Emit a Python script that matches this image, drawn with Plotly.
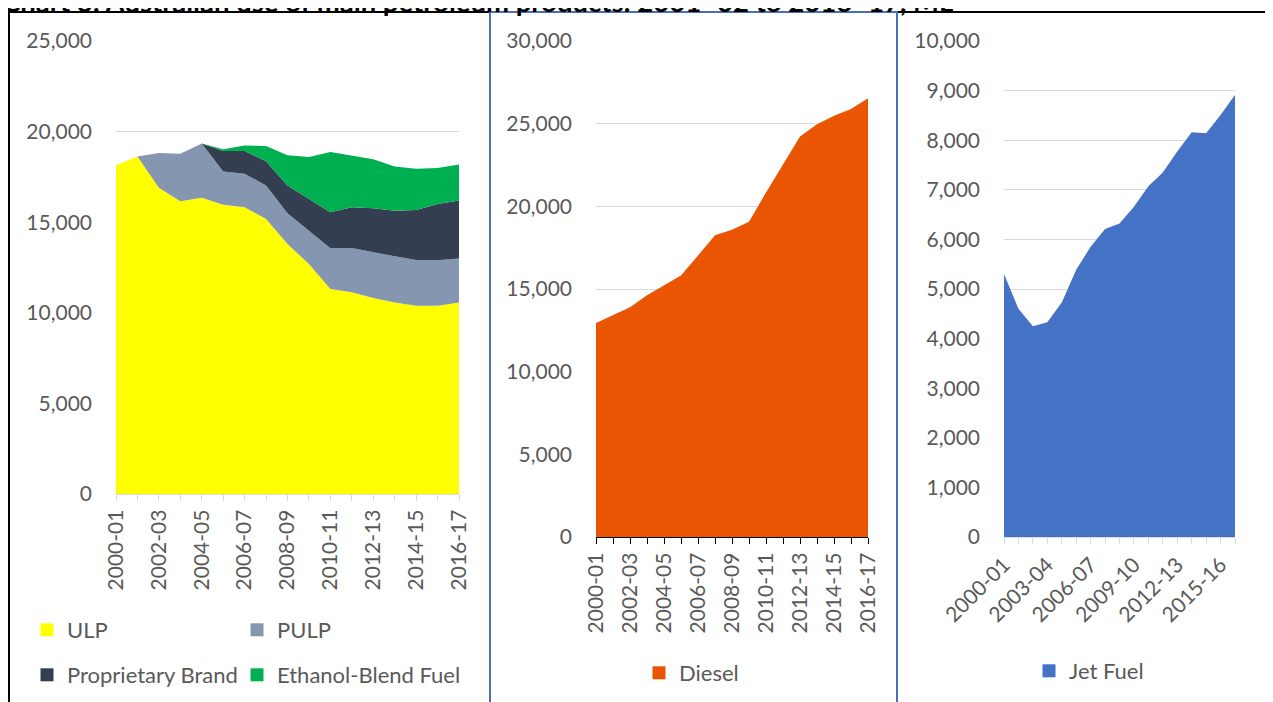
import plotly.graph_objects as go

W, H = 1273, 702
OFF = 8  # the page body adds an 8px margin round the figure

years = ["2000-01", "2001-02", "2002-03", "2003-04", "2004-05", "2005-06",
         "2006-07", "2007-08", "2008-09", "2009-10", "2010-11", "2011-12",
         "2012-13", "2013-14", "2014-15", "2015-16", "2016-17"]

ulp = [18140, 18630, 16900, 16160, 16350, 15960, 15830, 15180, 13800,
       12690, 11310, 11130, 10810, 10570, 10390, 10390, 10570]
pulp = [0, 0, 1920, 2620, 2990, 1840, 1850, 1850, 1700,
        1850, 2250, 2450, 2530, 2550, 2530, 2510, 2420]
proprietary = [0, 0, 0, 0, 0, 1130, 1250, 1330, 1530,
               1750, 1990, 2250, 2430, 2510, 2760, 3110, 3210]
ethanol = [0, 0, 0, 0, 0, 90, 300, 850, 1660,
           2310, 3320, 2860, 2700, 2450, 2270, 1980, 1990]

diesel = [12950, 13440, 13900, 14620, 15220, 15820, 17030, 18250, 18590,
          19060, 20840, 22510, 24220, 24960, 25480, 25880, 26530]

jet_fuel = [5300, 4600, 4250, 4330, 4730, 5390, 5850, 6210, 6320,
            6660, 7070, 7350, 7770, 8160, 8140, 8510, 8910]

title = "Chart 3: Australian use of main petroleum products: 2001\u201302 to 2016\u201317, ML"

FONT = "Lato, 'Open Sans', sans-serif"
GREY = "#595959"
GRID = "#D9D9D9"
FS = 21


def px_x(p):
    return (p - OFF) / W


def px_y(p):
    return 1 - (p - OFF) / H


fig = go.Figure()

# panel 1: stacked petrol types, one small legend per entry
stack = [("ULP", ulp, "#FFFF00", "legend"),
         ("PULP", pulp, "#8496B0", "legend2"),
         ("Proprietary Brand", proprietary, "#333F50", "legend3"),
         ("Ethanol-Blend Fuel", ethanol, "#00B050", "legend4")]
for name, vals, col, leg in stack:
    fig.add_trace(go.Scatter(x=years, y=vals, name=name, stackgroup="one",
                             mode="lines", line=dict(width=0, color=col),
                             fillcolor=col, showlegend=False,
                             xaxis="x", yaxis="y"))
    fig.add_trace(go.Scatter(x=[None], y=[None], name=name, mode="markers",
                             marker=dict(symbol="square", size=13, color=col),
                             legend=leg, xaxis="x", yaxis="y"))

# panel 2: diesel
fig.add_trace(go.Scatter(x=years, y=diesel, name="Diesel", fill="tozeroy",
                         mode="lines", line=dict(width=0, color="#EA5504"),
                         fillcolor="#EA5504", showlegend=False,
                         xaxis="x2", yaxis="y2"))
fig.add_trace(go.Scatter(x=[None], y=[None], name="Diesel", mode="markers",
                         marker=dict(symbol="square", size=13, color="#EA5504"),
                         legend="legend5", xaxis="x2", yaxis="y2"))

# panel 3: jet fuel
fig.add_trace(go.Scatter(x=years, y=jet_fuel, name="Jet Fuel", fill="tozeroy",
                         mode="lines", line=dict(width=0, color="#4472C4"),
                         fillcolor="#4472C4", showlegend=False,
                         xaxis="x3", yaxis="y3"))
fig.add_trace(go.Scatter(x=[None], y=[None], name="Jet Fuel", mode="markers",
                         marker=dict(symbol="square", size=13, color="#4472C4"),
                         legend="legend6", xaxis="x3", yaxis="y3"))

tickfont = dict(family=FONT, size=FS, color=GREY)


def xaxis(dom, every, angle, tickcol, linecol, anchor):
    return dict(domain=dom, type="category", range=[0, len(years) - 1],
                tickmode="array", tickvals=years,
                ticktext=[y if i % every == 0 else "" for i, y in enumerate(years)],
                tickangle=angle, ticks="outside", ticklen=6, tickwidth=1.3,
                tickcolor=tickcol, showline=True, linecolor=linecol,
                linewidth=1.3, showgrid=False, tickfont=tickfont, anchor=anchor)


def yaxis(dom, top, step, anchor, standoff):
    return dict(domain=dom, range=[0, top], dtick=step, tickformat=",",
                showgrid=True, gridcolor=GRID, gridwidth=1.3, zeroline=False,
                showline=False, tickfont=tickfont, anchor=anchor,
                ticklabelstandoff=standoff)


def legend(x, y):
    return dict(x=px_x(x), y=px_y(y), xanchor="left", yanchor="middle",
                orientation="h", font=dict(family=FONT, size=22, color=GREY),
                bgcolor="rgba(0,0,0,0)")


fig.update_layout(
    width=W, height=H,
    margin=dict(l=0, r=0, t=0, b=0, autoexpand=False),
    paper_bgcolor="white", plot_bgcolor="white",
    font=dict(family=FONT, color=GREY, size=FS),
    xaxis=xaxis([px_x(116), px_x(459)], 2, -90, GRID, GRID, "y"),
    yaxis=yaxis([px_y(494), px_y(41)], 25000, 5000, "x", 23),
    xaxis2=xaxis([px_x(596), px_x(868)], 2, -90, "black", "black", "y2"),
    yaxis2=yaxis([px_y(537), px_y(41)], 30000, 5000, "x2", 23),
    xaxis3=xaxis([px_x(1004), px_x(1235)], 3, -45, GRID, GRID, "y3"),
    yaxis3=yaxis([px_y(537), px_y(41)], 10000, 1000, "x3", 23),
    legend=legend(27, 630),
    legend2=legend(237, 630),
    legend3=legend(27, 675),
    legend4=legend(237, 675),
    legend5=legend(639, 673),
    legend6=legend(1029, 671),
    showlegend=True,
)

# chart title, cut at the top as in the source
fig.add_annotation(text="<b>" + title + "</b>", xref="paper", yref="paper",
                   x=px_x(0), y=px_y(20), xanchor="left", yanchor="bottom",
                   showarrow=False, font=dict(family=FONT, size=27.5, color="black"))

# panel frames
fig.add_shape(type="rect", xref="paper", yref="paper",
              x0=px_x(9), x1=px_x(490), y0=-0.05, y1=px_y(12),
              line=dict(color="black", width=2), layer="below")
fig.add_shape(type="rect", xref="paper", yref="paper",
              x0=px_x(897), x1=1.05, y0=-0.05, y1=px_y(12),
              line=dict(color="black", width=2), layer="below")
fig.add_shape(type="rect", xref="paper", yref="paper",
              x0=px_x(490), x1=px_x(897), y0=-0.05, y1=px_y(12),
              line=dict(color="#4A6FB5", width=2), layer="below")

fig.write_html("out.html")
